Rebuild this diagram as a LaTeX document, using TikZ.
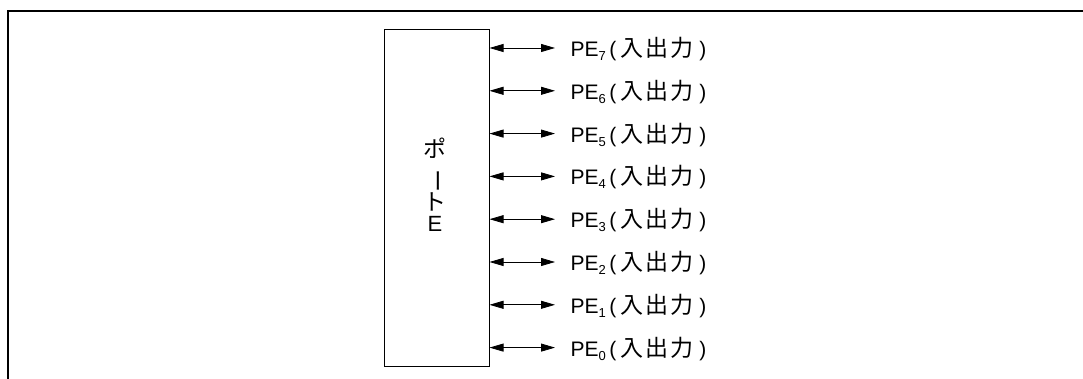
\documentclass[tikz,border=0pt]{standalone}
\usepackage{fontspec}
\setmainfont{Liberation Sans}
\newfontfamily\cjkf{Noto Sans CJK JP}
\newcommand{\cj}[1]{{\fontsize{23}{24}\selectfont\cjkf #1}}
\usetikzlibrary{arrows.meta}
\newcommand{\pelabel}[1]{PE{\fontsize{13}{13}\selectfont\raisebox{-4pt}{#1}}\hspace{3.5pt}(\hspace{4.5pt}\cj{入}\hspace{2pt}\cj{出}\hspace{2pt}\cj{力}\hspace{5.5pt})}
\tikzset{
  frameline/.style={line width=2pt, black},
  portbox/.style={draw, line width=1pt, inner sep=0pt, minimum width=104.5pt, minimum height=336.7pt},
  biarrow/.style={line width=0.8pt, {Triangle[length=14pt,width=8pt]}-{Triangle[length=14pt,width=8pt]}},
  lbl/.style={anchor=base west, inner sep=0pt, font=\fontsize{21}{24}\selectfont},
  vtxt/.style={inner sep=0pt, font=\fontsize{22}{24}\selectfont}
}
\begin{document}
\begin{tikzpicture}[x=1pt,y=1pt]
\useasboundingbox (0,0) rectangle (1083,379);
\coordinate (fa) at (8,-2);
\coordinate (fb) at (8,368);
\coordinate (fc) at (1090,368);
\draw[frameline] (fa) -- (fb) -- (fc);
\node[portbox] (port) at (436.75,180.65) {};
\node[vtxt] (v1) at (435,231) {\cj{ポ}};
\node[vtxt, rotate=-90] (v2) at (434,198) {\cj{ー}};
\node[vtxt] (v3) at (435,177.5) {\cj{ト}};
\node[vtxt] (v4) at (435,155.5) {E};
\foreach \k/\n in {0/7,1/6,2/5,3/4,4/3,5/2,6/1,7/0}{
  \pgfmathsetmacro{\yy}{379-48-42.8*\k}
  \coordinate (e\n) at (555,\yy);
  \draw[biarrow] (port.east |- e\n) -- (e\n);
  \node[lbl] (t\n) at (570.5,\yy-8.5) {\pelabel{\n}};
}
\end{tikzpicture}
\end{document}
